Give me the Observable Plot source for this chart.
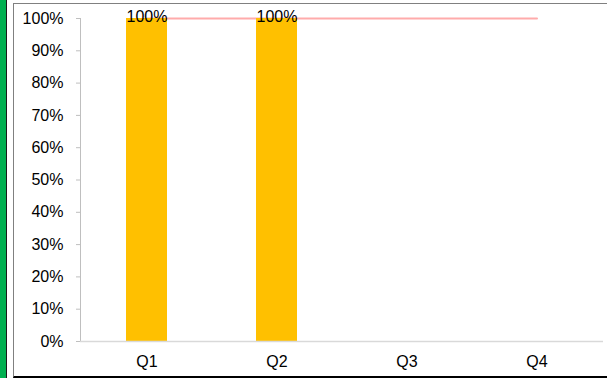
<!DOCTYPE html>
<html>
<head>
<meta charset="utf-8">
<script src="https://cdn.jsdelivr.net/npm/d3@7"></script>
<script src="https://cdn.jsdelivr.net/npm/@observablehq/plot@0.6"></script>
<style>
  html, body { margin: 0; padding: 0; background: #fff; }
  #wrap { position: relative; width: 607px; height: 378px; overflow: hidden; font-family: "Liberation Sans", Arial, sans-serif; }
  #green { position: absolute; left: 0; top: 0; width: 6px; height: 378px; background: #00b050; border-right: 1px solid #1a1a1a; }
  #frame { position: absolute; left: 13px; top: 3px; width: 600px; height: 372px; border-left: 1px solid #808080; border-top: 1px solid #808080; border-bottom: 2px solid #000; pointer-events: none; }
  #chart { position: absolute; left: 0; top: 0; }
</style>
</head>
<body>
<div id="wrap">
  <div id="chart"></div>
  <div id="green"></div>
  <div id="frame"></div>
</div>
<script>
const quarters = ["Q1", "Q2", "Q3", "Q4"];
const actual = [1, 1, null, null];
const target = [1, 1, 1, 1];
const yTicks = [0, 0.1, 0.2, 0.3, 0.4, 0.5, 0.6, 0.7, 0.8, 0.9, 1.0];

const rows = quarters.map((q, i) => ({q, actual: actual[i], target: target[i]}));
const barRows = rows.filter(d => d.actual != null);
const pct = d3.format(".0%");

const chart = Plot.plot({
  width: 607,
  height: 378,
  marginLeft: 80,
  marginRight: 4,
  marginTop: 18,
  marginBottom: 37,
  style: {fontFamily: "'Liberation Sans', Arial, sans-serif", fontSize: "16px", color: "#000", background: "transparent"},
  x: {domain: quarters, paddingInner: 0.686, paddingOuter: 0.343, label: null},
  y: {domain: [0, 1], label: null},
  marks: [
    Plot.frame({anchor: "left", stroke: "#bfbfbf"}),
    Plot.axisY({ticks: yTicks, tickFormat: pct, tickSize: 4, tickPadding: 13, stroke: "#bfbfbf", fontSize: 16, label: null}),
    Plot.axisX({tickSize: 0, tickPadding: 14, fontSize: 16, label: null}),
    Plot.line(rows, {x: "q", y: "target", stroke: "#ffabab", strokeWidth: 2}),
    Plot.barY(barRows, {x: "q", y: "actual", fill: "#ffc000"}),
    Plot.text(barRows, {x: "q", y: "actual", text: d => pct(d.actual), fontSize: 16, fill: "#000", dy: -2}),
    Plot.ruleY([0], {stroke: "#d9d9d9", strokeWidth: 1.5})
  ]
});
document.getElementById("chart").appendChild(chart);
</script>
</body>
</html>
